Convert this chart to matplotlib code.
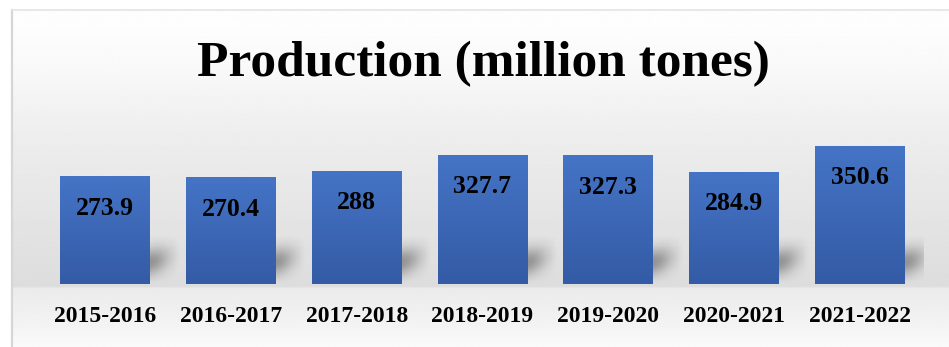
"""
Bar chart of annual production (million tones), 2015-2016 .. 2021-2022.
Output: out.png
"""

import matplotlib
matplotlib.use("Agg")
import matplotlib.pyplot as plt
import numpy as np
from matplotlib.colors import LinearSegmentedColormap

SEASONS = ["2015-2016", "2016-2017", "2017-2018", "2018-2019",
           "2019-2020", "2020-2021", "2021-2022"]
PRODUCTION = [273.9, 270.4, 288, 327.7, 327.3, 284.9, 350.6]
TITLE = "Production (million tones)"

W, H, DPI = 949, 347, 100
FONT = "Liberation Serif"
BAR_W = 0.715
Y_MAX = 400


def _px(x, y, w, h):
    # pixel box (top-left origin) -> figure fraction rect
    return [x / W, 1 - (y + h) / H, w / W, h / H]


def _background(fig):
    bg = fig.add_axes([0, 0, 1, 1], zorder=-10)
    bg.set_xlim(0, W)
    bg.set_ylim(H, 0)
    bg.axis("off")
    ys = np.arange(H)
    vals = np.interp(ys, [10, 60, 130, 250, 284, 286, 320, 347],
                     [0.995, 0.975, 0.93, 0.88, 0.865, 0.92, 0.95, 0.98])
    img = np.repeat(vals[:, None], 2, axis=1)
    bg.imshow(img, cmap="gray", vmin=0, vmax=1, aspect="auto",
              extent=[12, W, H, 10], interpolation="bilinear")
    bg.plot([12, 12], [10, H], color="#d6d6d6", lw=1.6)
    bg.plot([12, W], [10, 10], color="#e4e4e4", lw=1.2)
    bg.text(483, 64, TITLE, ha="center", va="center", fontsize=37,
            fontweight="bold", family=FONT, color="black")


# shadow box, in data units relative to the bar's right edge
SH_X = (-0.05, 0.25)
SH_Y = (0, 135)


def _shadow_img(n=100):
    dx = np.linspace(*SH_X, n)
    dy = np.linspace(*SH_Y, n)
    DX, DY = np.meshgrid(dx, dy)
    blob = np.exp(-(DX / 0.15) ** 2 - ((DY - 55 - 80 * DX) / 34) ** 2)
    # fade out before the box edges
    fx = np.clip((SH_X[1] - DX) / 0.06, 0, 1)
    fy = np.clip(DY / 12, 0, 1) * np.clip((SH_Y[1] - DY) / 25, 0, 1)
    img = np.zeros((n, n, 4))
    img[..., 3] = 0.34 * blob * fx * fy
    return img


def _bars(fig):
    ax = fig.add_axes(_px(42, 126.4, 881, 157.6))
    ax.set_xlim(-0.5, len(SEASONS) - 0.5)
    ax.set_ylim(0, Y_MAX)
    ax.axis("off")

    x = np.arange(len(SEASONS))
    bars = ax.bar(x, PRODUCTION, width=BAR_W, color="#3f68b6", zorder=3)

    shadow = _shadow_img()
    for xi in x:
        edge = xi + BAR_W / 2
        ax.imshow(shadow, extent=[edge + SH_X[0], edge + SH_X[1], *SH_Y],
                  aspect="auto", origin="lower", zorder=2,
                  interpolation="bilinear")

    # vertical gradient fill inside each bar
    cmap = LinearSegmentedColormap.from_list("bar", ["#345ba5", "#4574c6"])
    grad = np.linspace(0, 1, 100)[:, None]
    for b, v in zip(bars, PRODUCTION):
        im = ax.imshow(grad, cmap=cmap, origin="lower", aspect="auto",
                       extent=[b.get_x(), b.get_x() + b.get_width(), 0, v],
                       zorder=4, interpolation="bilinear")
        im.set_clip_path(b)
        ax.annotate(f"{v:g}", (b.get_x() + b.get_width() / 2, v),
                    xytext=(0, -32 * 72 / DPI), textcoords="offset points",
                    ha="center", va="center", fontsize=18.5,
                    fontweight="bold", family=FONT, color="black", zorder=5)
    ax.set_xlim(-0.5, len(SEASONS) - 0.5)
    ax.set_ylim(0, Y_MAX)

    for xi, s in zip(x, SEASONS):
        ax.annotate(s, (xi, 0), xytext=(0, -33 * 72 / DPI),
                    textcoords="offset points", ha="center", va="center",
                    fontsize=17, fontweight="bold", family=FONT,
                    color="black", annotation_clip=False)


def main():
    fig = plt.figure(figsize=(W / DPI, H / DPI), dpi=DPI)
    fig.patch.set_facecolor("white")
    _background(fig)
    _bars(fig)
    fig.savefig("out.png", dpi=DPI)
    plt.close(fig)


if __name__ == "__main__":
    main()
